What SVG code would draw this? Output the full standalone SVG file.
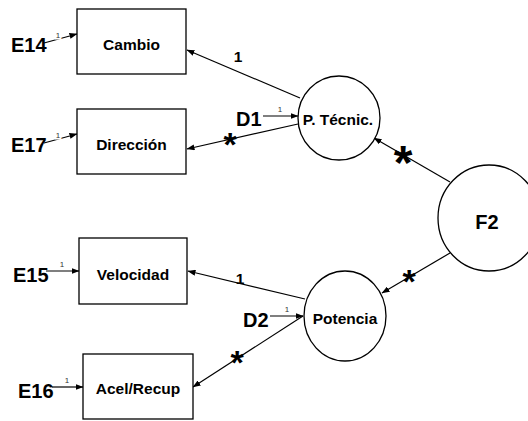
<svg xmlns="http://www.w3.org/2000/svg" width="528" height="421" viewBox="0 0 528 421">
<defs>
<marker id="ah" markerWidth="8" markerHeight="6" refX="7.5" refY="3" orient="auto" markerUnits="userSpaceOnUse">
<path d="M0,0 L8,3 L0,6 Z" fill="#000"/>
</marker>
<style>
.box{fill:#fff;stroke:#000;stroke-width:1.3}
.lat{fill:#fff;stroke:#000;stroke-width:1.3}
.lbl{font-family:"Liberation Sans",Arial,sans-serif;font-weight:bold;font-size:15.5px;text-anchor:middle;fill:#000}
.big{font-family:"Liberation Sans",Arial,sans-serif;font-weight:bold;font-size:20px;fill:#000}
.one{font-family:"Liberation Sans",Arial,sans-serif;font-size:8px;text-anchor:middle;fill:#333}
.coef{font-family:"Liberation Sans",Arial,sans-serif;font-weight:bold;font-size:15.5px;text-anchor:middle;fill:#000}
.ast{font-family:"Liberation Sans",Arial,sans-serif;font-weight:bold;text-anchor:middle;fill:#000}
.ln{stroke:#000;stroke-width:1.2;fill:none;marker-end:url(#ah)}
.gap{stroke:#fff;stroke-width:3;paint-order:stroke}
</style>
</defs>
<rect width="528" height="421" fill="#fff"/>
<g id="connectors">
<line class="ln" x1="44" y1="43" x2="77" y2="34"/>
<text class="one gap" x="58" y="38">1</text>
<line class="ln" x1="44" y1="143" x2="77" y2="134"/>
<text class="one gap" x="58" y="138">1</text>
<line class="ln" x1="46" y1="271" x2="79" y2="271"/>
<text class="one" x="62" y="267">1</text>
<line class="ln" x1="52" y1="387" x2="83" y2="387"/>
<text class="one" x="67" y="383">1</text>
<line class="ln" x1="300" y1="98" x2="187" y2="50"/>
<text class="coef" x="238" y="62">1</text>
<line class="ln" x1="298" y1="124" x2="187" y2="149"/>
<text class="ast" x="230" y="156" font-size="34">*</text>
<line class="ln" x1="263" y1="116" x2="298" y2="116"/>
<text class="one" x="280" y="112">1</text>
<line class="ln" x1="450" y1="182" x2="374" y2="138"/>
<text class="ast" x="403" y="179" font-size="48">*</text>
<line class="ln" x1="450" y1="253" x2="382" y2="293"/>
<text class="ast" x="409" y="293" font-size="34">*</text>
<line class="ln" x1="305" y1="299" x2="188" y2="271"/>
<text class="coef" x="240" y="284">1</text>
<line class="ln" x1="270" y1="316" x2="303" y2="316"/>
<text class="one" x="287" y="312">1</text>
<line class="ln" x1="303" y1="316" x2="193" y2="387"/>
<text class="ast" x="237" y="374" font-size="34">*</text>
</g>
<g id="E14"><text class="big" x="11" y="52">E14</text></g>
<g id="E17"><text class="big" x="11" y="152">E17</text></g>
<g id="E15"><text class="big" x="13" y="282">E15</text></g>
<g id="E16"><text class="big" x="18" y="398">E16</text></g>
<g id="D1"><text class="big" x="236" y="126">D1</text></g>
<g id="D2"><text class="big" x="243" y="327">D2</text></g>
<g id="Cambio"><rect class="box" x="77" y="9" width="109" height="65"/><text class="lbl" x="131.5" y="50">Cambio</text></g>
<g id="Direccion"><rect class="box" x="77" y="109" width="109" height="65"/><text class="lbl" x="131.5" y="150">Dirección</text></g>
<g id="Velocidad"><rect class="box" x="79" y="238" width="108" height="66"/><text class="lbl" x="133" y="280">Velocidad</text></g>
<g id="AcelRecup"><rect class="box" x="83" y="354" width="110" height="65"/><text class="lbl" x="138" y="394">Acel/Recup</text></g>
<g id="PTecnic"><ellipse class="lat" cx="339" cy="118" rx="41" ry="42"/><text class="lbl" x="338" y="125">P. Técnic.</text></g>
<g id="Potencia"><ellipse class="lat" cx="345" cy="316" rx="41" ry="45"/><text class="lbl" x="345" y="324">Potencia</text></g>
<g id="F2"><ellipse class="lat" cx="489" cy="218" rx="51" ry="53"/><text class="big" x="487" y="229" text-anchor="middle" font-size="22">F2</text></g>
</svg>
